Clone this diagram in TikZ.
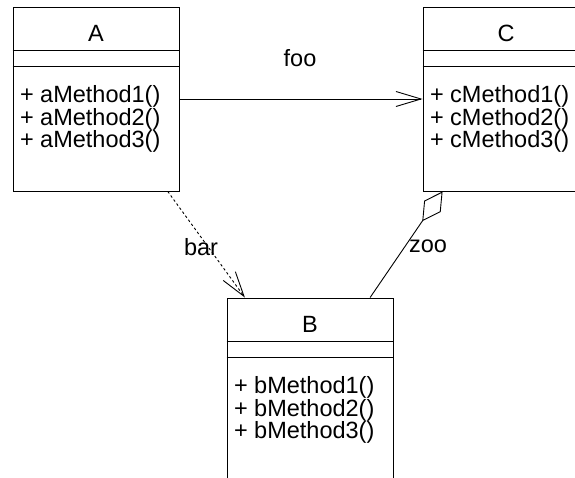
\documentclass[tikz,border=0pt]{standalone}
\usepackage{fontspec}
\setmainfont{Liberation Sans}
\usepackage{tikz}
\usetikzlibrary{positioning,arrows.meta,calc}

\begin{document}
\begin{tikzpicture}[
    x=1pt, y=-1pt, line width=0.9pt,
    font=\fontsize{23.5}{22.5}\selectfont,
    clase/.style={draw, minimum width=166pt, minimum height=184pt, inner sep=0pt},
    titulo/.style={anchor=base, inner sep=0pt},
    metodo/.style={anchor=base west, inner sep=0pt},
    etiqueta/.style={anchor=base, inner sep=0pt},
    asociacion/.style={-{Straight Barb[length=25pt,width=15pt]}},
    dependencia/.style={dash pattern=on 2.5pt off 2.5pt, -{Straight Barb[length=25pt,width=15pt]}},
    agregacion/.style={{Diamond[open,length=36pt,width=20pt]}-}]
  \clip (0,0) rectangle (575,478);
  % clases
  \node[clase] (A) at (96,99) {};
  \node[clase] (C) at (506,99) {};
  \node[clase] (B) at (310,390) {};
  \foreach \c/\m in {A/a, B/b, C/c} {
    \draw ([yshift=-44pt]\c.north west) -- ([yshift=-44pt]\c.north east);
    \draw ([yshift=-60pt]\c.north west) -- ([yshift=-60pt]\c.north east);
    \node[titulo] (\c-titulo) at ([yshift=-35pt]\c.north) {\c};
    \foreach \i in {1,2,3}
      \node[metodo] (\c-m\i) at ([xshift=7pt,yshift={-96pt-22.5pt*(\i-1)}]\c.north west) {+ \m Method\i()};
  }
  % relaciones
  \coordinate (a-bar) at ($(A.south)!0.86!(A.south east)$);
  \coordinate (b-bar) at ($(B.north)!0.78!(B.north west)$);
  \coordinate (b-zoo) at ($(B.north)!0.72!(B.north east)$);
  \coordinate (c-zoo) at ($(C.south)!0.76!(C.south west)$);
  \draw[asociacion] (A.east) -- (C.west);
  \draw[dependencia] (a-bar) -- (b-bar);
  \draw[agregacion] (c-zoo) -- (b-zoo);
  \node[etiqueta] (foo) at (300,67) {foo};
  \node[etiqueta] (bar) at (201,255) {bar};
  \node[etiqueta] (zoo) at (428,252) {zoo};
\end{tikzpicture}
\end{document}
